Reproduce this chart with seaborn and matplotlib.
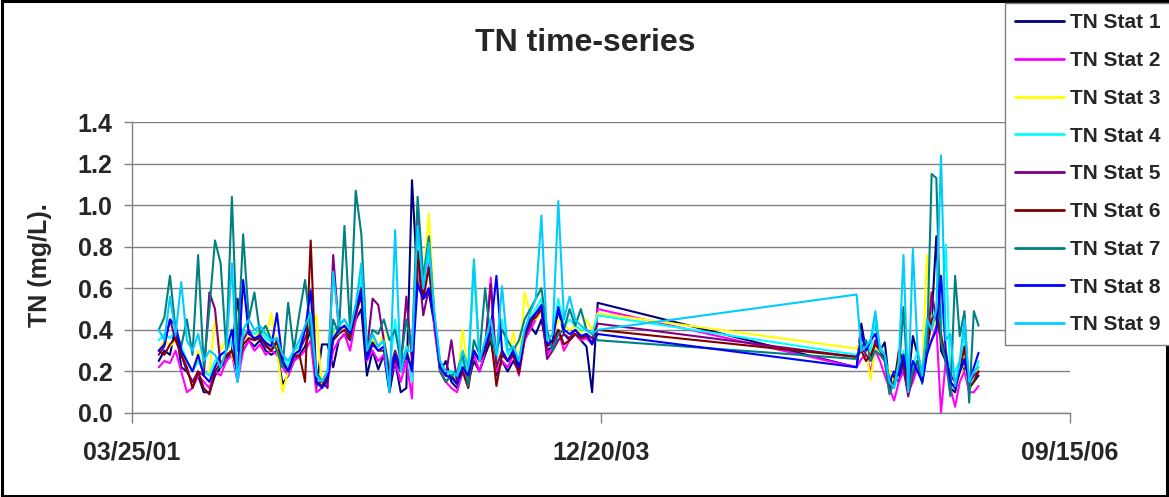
import pandas as pd
import matplotlib.pyplot as plt
import matplotlib.dates as mdates
from matplotlib.patches import Rectangle
import seaborn as sns

# station names and Excel default series colours
stations = ["TN Stat 1", "TN Stat 2", "TN Stat 3", "TN Stat 4", "TN Stat 5",
            "TN Stat 6", "TN Stat 7", "TN Stat 8", "TN Stat 9"]
colors = ["#000080", "#FF00FF", "#FFFF00", "#00FFFF", "#800080",
          "#800000", "#008080", "#0000FF", "#00CCFF"]

# sampling dates: first campaign (2001-2003) and second campaign (2005-2006)
dates_a = pd.date_range("2001-05-21", periods=79, freq="12D")
dates_b = pd.date_range("2005-06-17", periods=27, freq="10D")

# TN (mg/L), first campaign
stat1_a = [0.25, 0.30, 0.28, 0.42, 0.22, 0.20, 0.15, 0.18, 0.10, 0.10,
           0.18, 0.22, 0.25, 0.30, 0.55, 0.30, 0.35, 0.32, 0.35, 0.30,
           0.28, 0.30, 0.14, 0.18, 0.25, 0.28, 0.32, 0.40, 0.12, 0.33,
           0.33, 0.22, 0.35, 0.38, 0.35, 0.45, 0.50, 0.18, 0.30, 0.21,
           0.28, 0.10, 0.25, 0.10, 0.12, 1.12, 0.62, 0.55, 0.58, 0.42,
           0.20, 0.25, 0.15, 0.12, 0.20, 0.15, 0.25, 0.20, 0.28, 0.35,
           0.18, 0.25, 0.20, 0.25, 0.20, 0.35, 0.42, 0.38, 0.45, 0.30,
           0.32, 0.50, 0.38, 0.35, 0.38, 0.35, 0.32, 0.10, 0.53]
stat2_a = [0.22, 0.25, 0.24, 0.30, 0.20, 0.10, 0.12, 0.18, 0.15, 0.12,
           0.20, 0.18, 0.25, 0.28, 0.15, 0.30, 0.35, 0.30, 0.33, 0.28,
           0.30, 0.28, 0.22, 0.18, 0.25, 0.27, 0.30, 0.35, 0.10, 0.12,
           0.15, 0.30, 0.35, 0.38, 0.30, 0.45, 0.62, 0.25, 0.30, 0.25,
           0.28, 0.15, 0.25, 0.15, 0.25, 0.07, 0.96, 0.58, 0.72, 0.40,
           0.20, 0.15, 0.12, 0.10, 0.20, 0.15, 0.28, 0.20, 0.30, 0.65,
           0.20, 0.25, 0.22, 0.28, 0.18, 0.35, 0.40, 0.45, 0.50, 0.28,
           0.32, 0.40, 0.30, 0.35, 0.38, 0.35, 0.36, 0.33, 0.50]
stat3_a = [0.30, 0.35, 0.32, 0.35, 0.28, 0.25, 0.20, 0.30, 0.18, 0.20,
           0.45, 0.30, 0.35, 0.28, 0.20, 0.38, 0.36, 0.35, 0.40, 0.36,
           0.48, 0.30, 0.10, 0.20, 0.30, 0.30, 0.40, 0.42, 0.47, 0.12,
           0.18, 0.38, 0.42, 0.40, 0.36, 0.50, 0.72, 0.30, 0.36, 0.32,
           0.38, 0.20, 0.30, 0.22, 0.32, 0.20, 0.80, 0.62, 0.96, 0.48,
           0.22, 0.18, 0.20, 0.15, 0.40, 0.20, 0.74, 0.28, 0.32, 0.42,
           0.22, 0.30, 0.25, 0.39, 0.22, 0.58, 0.48, 0.45, 0.50, 0.35,
           0.36, 0.45, 0.42, 0.40, 0.42, 0.38, 0.45, 0.40, 0.48]
stat4_a = [0.35, 0.38, 0.36, 0.40, 0.32, 0.25, 0.20, 0.25, 0.20, 0.18,
           0.25, 0.28, 0.30, 0.35, 0.15, 0.38, 0.40, 0.38, 0.40, 0.36,
           0.34, 0.36, 0.28, 0.22, 0.30, 0.32, 0.40, 0.42, 0.16, 0.15,
           0.18, 0.40, 0.42, 0.45, 0.40, 0.52, 0.65, 0.30, 0.38, 0.32,
           0.35, 0.20, 0.45, 0.22, 0.32, 0.15, 0.88, 0.60, 0.78, 0.45,
           0.24, 0.18, 0.20, 0.16, 0.25, 0.20, 0.70, 0.25, 0.35, 0.42,
           0.25, 0.45, 0.28, 0.32, 0.25, 0.40, 0.45, 0.50, 0.55, 0.35,
           0.38, 0.55, 0.42, 0.45, 0.42, 0.40, 0.40, 0.38, 0.47]
stat5_a = [0.28, 0.32, 0.45, 0.35, 0.28, 0.20, 0.15, 0.20, 0.18, 0.58,
           0.50, 0.22, 0.28, 0.30, 0.20, 0.35, 0.40, 0.35, 0.38, 0.32,
           0.30, 0.35, 0.25, 0.20, 0.28, 0.30, 0.36, 0.42, 0.14, 0.15,
           0.12, 0.76, 0.40, 0.42, 0.38, 0.50, 0.60, 0.30, 0.55, 0.52,
           0.35, 0.20, 0.30, 0.22, 0.56, 0.25, 0.76, 0.47, 0.60, 0.45,
           0.22, 0.18, 0.35, 0.15, 0.22, 0.18, 0.30, 0.25, 0.32, 0.62,
           0.22, 0.30, 0.25, 0.30, 0.22, 0.38, 0.42, 0.48, 0.50, 0.26,
           0.30, 0.35, 0.38, 0.36, 0.40, 0.37, 0.38, 0.36, 0.43]
stat6_a = [0.30, 0.28, 0.33, 0.36, 0.28, 0.22, 0.12, 0.20, 0.12, 0.09,
           0.20, 0.24, 0.27, 0.30, 0.20, 0.33, 0.36, 0.35, 0.36, 0.33,
           0.30, 0.34, 0.24, 0.20, 0.27, 0.28, 0.15, 0.83, 0.15, 0.13,
           0.18, 0.35, 0.38, 0.40, 0.36, 0.48, 0.56, 0.28, 0.34, 0.30,
           0.30, 0.18, 0.26, 0.20, 0.28, 0.22, 0.78, 0.55, 0.70, 0.45,
           0.20, 0.15, 0.18, 0.14, 0.20, 0.12, 0.30, 0.25, 0.30, 0.38,
           0.13, 0.28, 0.25, 0.28, 0.19, 0.36, 0.44, 0.46, 0.50, 0.32,
           0.34, 0.40, 0.33, 0.35, 0.38, 0.36, 0.37, 0.34, 0.40]
stat7_a = [0.40, 0.46, 0.66, 0.40, 0.32, 0.45, 0.28, 0.76, 0.22, 0.50,
           0.83, 0.72, 0.30, 1.04, 0.30, 0.86, 0.45, 0.58, 0.38, 0.42,
           0.35, 0.30, 0.22, 0.53, 0.30, 0.48, 0.64, 0.40, 0.20, 0.15,
           0.20, 0.45, 0.38, 0.90, 0.40, 1.07, 0.86, 0.30, 0.40, 0.38,
           0.45, 0.35, 0.40, 0.25, 0.45, 0.30, 1.04, 0.65, 0.85, 0.45,
           0.20, 0.15, 0.18, 0.20, 0.28, 0.13, 0.35, 0.28, 0.60, 0.35,
           0.30, 0.40, 0.35, 0.30, 0.35, 0.45, 0.50, 0.55, 0.60, 0.40,
           0.30, 0.38, 0.40, 0.50, 0.42, 0.50, 0.40, 0.38, 0.35]
stat8_a = [0.30, 0.33, 0.45, 0.42, 0.30, 0.25, 0.20, 0.28, 0.18, 0.15,
           0.22, 0.28, 0.30, 0.40, 0.18, 0.64, 0.38, 0.36, 0.37, 0.34,
           0.32, 0.48, 0.25, 0.20, 0.28, 0.30, 0.40, 0.59, 0.15, 0.12,
           0.16, 0.36, 0.40, 0.42, 0.38, 0.50, 0.58, 0.26, 0.33, 0.30,
           0.32, 0.15, 0.28, 0.20, 0.30, 0.20, 0.62, 0.55, 0.60, 0.45,
           0.22, 0.18, 0.17, 0.14, 0.22, 0.18, 0.30, 0.25, 0.32, 0.40,
           0.66, 0.30, 0.25, 0.30, 0.22, 0.38, 0.45, 0.48, 0.52, 0.33,
           0.35, 0.51, 0.40, 0.38, 0.40, 0.37, 0.38, 0.33, 0.38]
stat9_a = [0.40, 0.35, 0.56, 0.38, 0.63, 0.35, 0.30, 0.38, 0.25, 0.30,
           0.28, 0.22, 0.30, 0.72, 0.15, 0.40, 0.45, 0.40, 0.42, 0.38,
           0.35, 0.36, 0.28, 0.25, 0.30, 0.35, 0.42, 0.48, 0.18, 0.15,
           0.20, 0.68, 0.42, 0.45, 0.40, 0.52, 0.72, 0.30, 0.38, 0.32,
           0.35, 0.10, 0.88, 0.20, 0.30, 0.30, 0.90, 0.60, 0.82, 0.48,
           0.25, 0.20, 0.20, 0.18, 0.30, 0.22, 0.74, 0.25, 0.35, 0.45,
           0.28, 0.61, 0.30, 0.32, 0.25, 0.40, 0.48, 0.55, 0.95, 0.35,
           0.38, 1.02, 0.45, 0.56, 0.45, 0.42, 0.40, 0.38, 0.40]

# TN (mg/L), second campaign
stat1_b = [0.22, 0.43, 0.30, 0.35, 0.44, 0.30, 0.34, 0.14, 0.18, 0.15, 0.25, 0.15, 0.37, 0.28,
           0.18, 0.30, 0.45, 0.85, 0.30, 0.25, 0.12, 0.10, 0.20, 0.22, 0.12, 0.15, 0.18]
stat2_b = [0.22, 0.26, 0.28, 0.20, 0.30, 0.25, 0.18, 0.12, 0.06, 0.15, 0.20, 0.10, 0.15, 0.22,
           0.15, 0.30, 0.35, 0.42, 0.00, 0.25, 0.12, 0.03, 0.15, 0.20, 0.10, 0.10, 0.13]
stat3_b = [0.31, 0.35, 0.30, 0.16, 0.32, 0.28, 0.25, 0.20, 0.15, 0.22, 0.28, 0.15, 0.20, 0.25,
           0.20, 0.76, 0.40, 0.45, 0.35, 0.30, 0.15, 0.12, 0.18, 0.25, 0.12, 0.15, 0.22]
stat4_b = [0.28, 0.32, 0.35, 0.30, 0.45, 0.32, 0.28, 0.15, 0.12, 0.20, 0.30, 0.12, 0.22, 0.30,
           0.18, 0.40, 0.45, 0.50, 0.40, 0.81, 0.15, 0.20, 0.25, 0.38, 0.12, 0.18, 0.25]
stat5_b = [0.27, 0.32, 0.28, 0.25, 0.35, 0.30, 0.25, 0.12, 0.15, 0.20, 0.22, 0.08, 0.18, 0.25,
           0.20, 0.30, 0.58, 0.45, 0.35, 0.25, 0.18, 0.15, 0.20, 0.25, 0.15, 0.18, 0.20]
stat6_b = [0.27, 0.30, 0.25, 0.28, 0.33, 0.30, 0.26, 0.15, 0.14, 0.30, 0.25, 0.12, 0.20, 0.25,
           0.20, 0.32, 0.45, 0.48, 0.38, 0.25, 0.15, 0.12, 0.20, 0.32, 0.12, 0.15, 0.20]
stat7_b = [0.26, 0.31, 0.35, 0.25, 0.30, 0.28, 0.25, 0.09, 0.15, 0.20, 0.51, 0.10, 0.20, 0.25,
           0.14, 0.30, 1.15, 1.13, 0.34, 0.25, 0.08, 0.66, 0.37, 0.49, 0.05, 0.49, 0.42]
stat8_b = [0.22, 0.38, 0.30, 0.35, 0.38, 0.30, 0.28, 0.15, 0.20, 0.18, 0.28, 0.15, 0.25, 0.20,
           0.15, 0.28, 0.35, 0.40, 0.66, 0.30, 0.15, 0.12, 0.20, 0.26, 0.15, 0.22, 0.29]
stat9_b = [0.57, 0.30, 0.32, 0.35, 0.49, 0.30, 0.28, 0.15, 0.12, 0.25, 0.76, 0.10, 0.79, 0.30,
           0.18, 0.45, 0.40, 0.50, 1.24, 0.35, 0.38, 0.13, 0.25, 0.45, 0.15, 0.20, 0.22]

series_a = [stat1_a, stat2_a, stat3_a, stat4_a, stat5_a, stat6_a, stat7_a, stat8_a, stat9_a]
series_b = [stat1_b, stat2_b, stat3_b, stat4_b, stat5_b, stat6_b, stat7_b, stat8_b, stat9_b]

frames = []
for name, va, vb in zip(stations, series_a, series_b):
    frames.append(pd.DataFrame({"Date": list(dates_a) + list(dates_b),
                                "TN": va + vb, "Station": name}))
df = pd.concat(frames, ignore_index=True)

sns.set_style("white")
plt.rcParams["font.family"] = ["Liberation Sans", "DejaVu Sans"]
plt.rcParams["font.weight"] = "bold"

fig = plt.figure(figsize=(11.69, 4.97), dpi=100)
ax = fig.add_axes([132 / 1169, 1 - 413 / 497, 938 / 1169, 291 / 497])

sns.lineplot(data=df, x="Date", y="TN", hue="Station", hue_order=stations,
             palette=dict(zip(stations, colors)), estimator=None, sort=False,
             linewidth=1.5, ax=ax)
handles, labels = ax.get_legend_handles_labels()
ax.get_legend().remove()

# axes styling, Excel-like
ax.set_xlim(pd.Timestamp("2001-03-25"), pd.Timestamp("2006-09-15"))
ax.set_xticks([pd.Timestamp("2001-03-25"), pd.Timestamp("2003-12-20"), pd.Timestamp("2006-09-15")])
ax.xaxis.set_major_formatter(mdates.DateFormatter("%m/%d/%y"))
ax.set_ylim(0, 1.4)
ax.set_yticks([0, 0.2, 0.4, 0.6, 0.8, 1.0, 1.2, 1.4])
ax.set_yticklabels([f"{v:.1f}" for v in ax.get_yticks()])
ax.set_xlabel("")
ax.set_ylabel("")
ax.yaxis.grid(True, color="#808080", linewidth=1)
ax.set_axisbelow(True)
for side in ["top", "right"]:
    ax.spines[side].set_visible(False)
for side in ["left", "bottom"]:
    ax.spines[side].set_color("#808080")
    ax.spines[side].set_linewidth(1)
ax.tick_params(axis="y", direction="out", length=6, width=1, color="#808080",
               labelsize=18, pad=8, left=True)
ax.tick_params(axis="x", direction="out", length=7, width=1, color="#808080",
               labelsize=18, pad=13, bottom=True)
for t in ax.get_xticklabels() + ax.get_yticklabels():
    t.set_fontweight("bold")

fig.text(585 / 1169, 1 - 43 / 497, "TN time-series", ha="center", va="center",
         fontsize=23, fontweight="bold")
fig.text(40 / 1169, 1 - 265 / 497, "TN (mg/L).", ha="center", va="center",
         rotation=90, fontsize=18, fontweight="bold")

leg = fig.legend(handles, labels, loc="upper left",
                 bbox_to_anchor=(1005 / 1169, 1 - 3 / 497), borderaxespad=0,
                 frameon=True, fancybox=False, framealpha=1, edgecolor="#808080",
                 prop={"size": 15, "weight": "bold"}, handlelength=2.33,
                 handletextpad=0.3, borderpad=0.5, labelspacing=0.9)
leg.get_frame().set_linewidth(1)
for line in leg.get_lines():
    line.set_linewidth(2)
leg.set_zorder(10)

# outer chart border
fig.patches.append(Rectangle((0.002, 0.003), 0.996, 0.994, transform=fig.transFigure,
                             fill=False, edgecolor="black", linewidth=2.2, zorder=5))

fig.savefig("out.png", dpi=100)
